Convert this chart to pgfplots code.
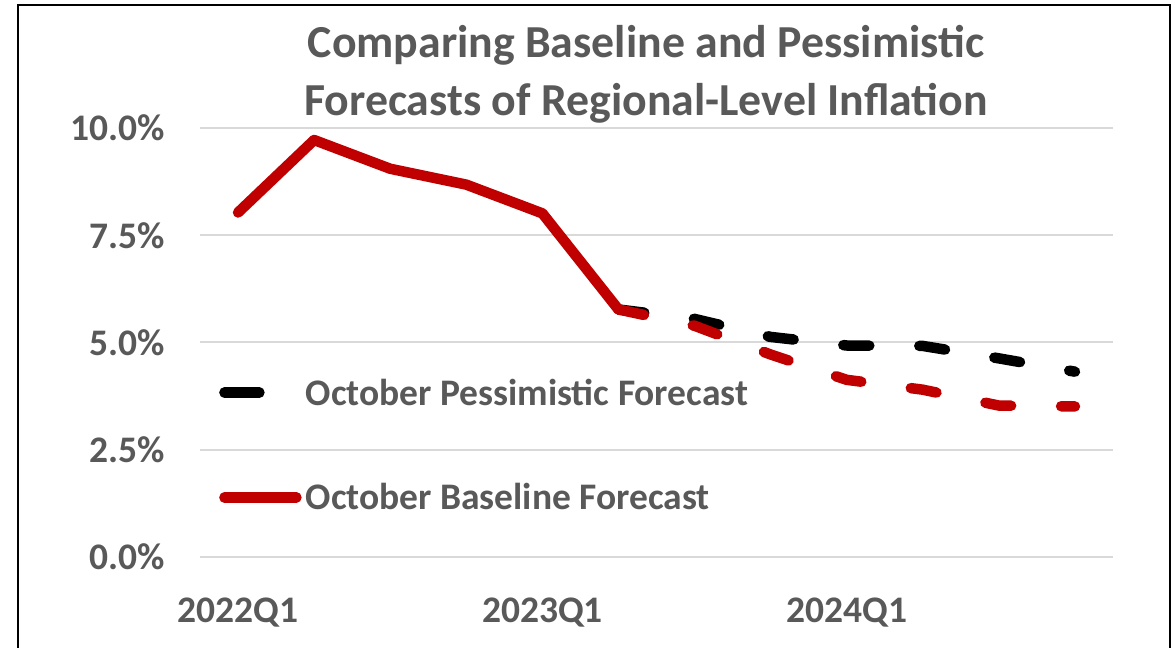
\documentclass[border=0pt]{standalone}
\usepackage{fontspec}
\setmainfont{Carlito}
\usepackage{pgfplots}
\usepackage{pgfplotstable}
\pgfplotsset{compat=1.18}

\definecolor{txtgray}{HTML}{595959}
\definecolor{gridgray}{HTML}{D9D9D9}
\definecolor{baselinered}{HTML}{C00000}
\newcommand{\chartfont}{\fontsize{37.5bp}{45bp}\selectfont\bfseries}

% quarter index: 0 = 2022Q1 ... 11 = 2024Q4, inflation in percent
\pgfplotstableread{
q  infl
0  8.03
1  9.72
2  9.05
3  8.68
4  8.01
5  5.77
}\history
\pgfplotstableread{
q  infl
5  5.77
6  5.39
7  4.72
8  4.13
9  3.90
10 3.53
11 3.51
}\baseline
\pgfplotstableread{
q  infl
5  5.77
6  5.55
7  5.13
8  4.93
9  4.92
10 4.63
11 4.32
}\pessimistic

\begin{document}
\begin{tikzpicture}
\useasboundingbox (0,0) rectangle (1175bp,648bp);
\fill[white] (0,0) rectangle (1175bp,648bp);
\draw[black, line width=2bp] (18bp,-20bp) rectangle (1170bp,643bp);
\begin{axis}[
  at={(200bp,91bp)}, anchor=south west,
  scale only axis, width=913bp, height=429bp,
  xmin=-0.5, xmax=11.5, ymin=0, ymax=10,
  clip=false, no markers,
  axis line style={draw=none},
  major tick length=0pt, tick style={draw=none},
  xtick={0,4,8}, xticklabels={2022Q1,2023Q1,2024Q1},
  ytick={0,2.5,5,7.5,10},
  yticklabels={0.0\%,2.5\%,5.0\%,7.5\%,10.0\%},
  ymajorgrids, grid style={gridgray, line width=2bp},
  ticklabel style={font=\chartfont, text=txtgray, inner sep=0pt},
  yticklabel style={anchor=east, xshift=-35bp},
  xticklabel style={anchor=north, yshift=-41bp},
  title={Comparing Baseline and Pessimistic\\Forecasts of Regional-Level Inflation},
  title style={font=\fontsize{45.8bp}{58bp}\selectfont\bfseries, text=txtgray,
    align=center, at={(0.4885,1)}, anchor=south, yshift=-1bp, inner sep=0pt},
  legend cell align=left,
  legend image code/.code={\draw[#1] (0bp,0bp) -- (72bp,0bp);},
  legend style={draw=none, fill=none, at={(0.0208,0.2610)}, anchor=west,
    font=\chartfont, text=txtgray, inner sep=0pt, row sep=77bp,
    nodes={inner sep=0pt},
    /tikz/every odd column/.append style={column sep=4bp}},
]
\addplot[black, line width=10.5bp, line cap=round, line join=round,
  dash pattern=on 26bp off 50bp, forget plot] table[x=q, y=infl] {\pessimistic};
\addplot[baselinered, line width=10.5bp, line cap=round, line join=round,
  forget plot] table[x=q, y=infl] {\history};
\addplot[baselinered, line width=10.5bp, line cap=round, line join=round,
  dash pattern=on 26bp off 50bp, forget plot] table[x=q, y=infl] {\baseline};

\addlegendimage{black, line width=10.5bp, line cap=round, dash pattern=on 35bp off 100bp}
\addlegendentry{October Pessimistic Forecast}
\addlegendimage{baselinered, line width=10.5bp, line cap=round}
\addlegendentry{October Baseline Forecast}
\end{axis}
\end{tikzpicture}
\end{document}
